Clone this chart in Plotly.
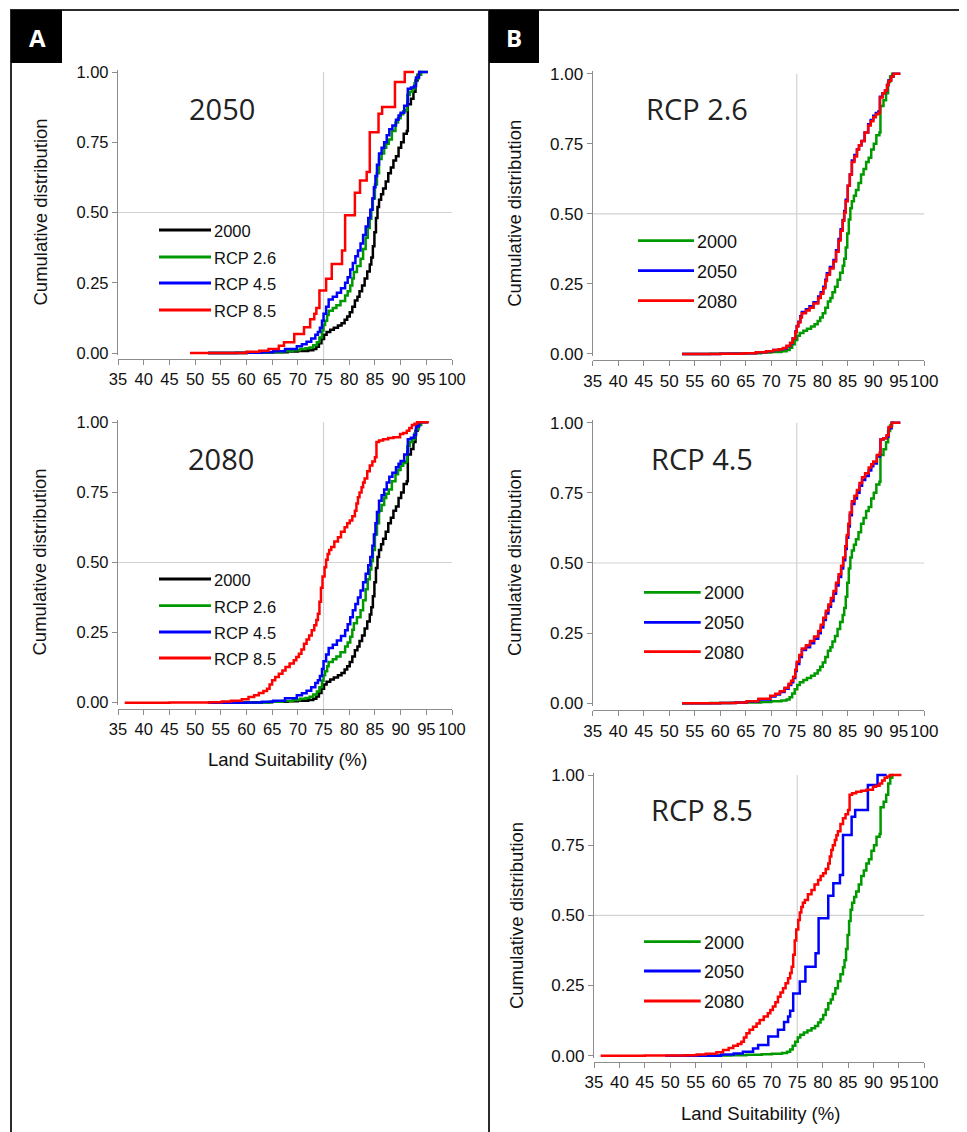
import plotly.graph_objects as go

W, H = 967, 1132
OFF = 8  # the page body margin shifts the figure; compensate so marks land where intended

# ---------------- data ----------------
X_TICKS = [35, 40, 45, 50, 55, 60, 65, 70, 75, 80, 85, 90, 95, 100]
Y_TICKS = [0.0, 0.25, 0.5, 0.75, 1.0]
GRID_X = 75
GRID_Y = 0.5

BASE_2000_X = [52.5, 58, 62, 65, 68, 70, 72, 73, 73.6, 74.1, 74.6, 75.1, 75.6, 76.3, 77, 77.8,
               78.5, 79.1, 79.6, 80.1, 80.6, 81.1, 81.6, 82.0, 82.5, 83.0, 83.5, 84.0, 84.3,
               84.6, 84.9, 85.2, 85.5, 85.8, 86.2, 86.6, 87.1, 87.6, 88.1, 88.6, 89.1, 89.6,
               90.1, 90.6, 91.2, 91.4, 92.0, 92.5, 92.9, 93.3, 93.7, 94.0]
BASE_2000_Y = [0, 0.001, 0.002, 0.003, 0.005, 0.007, 0.01, 0.014, 0.022, 0.035, 0.05, 0.065,
               0.075, 0.083, 0.09, 0.098, 0.106, 0.118, 0.13, 0.145, 0.165, 0.187, 0.20, 0.22,
               0.24, 0.265, 0.29, 0.315, 0.34, 0.38, 0.43, 0.48, 0.52, 0.545, 0.565, 0.585,
               0.61, 0.64, 0.66, 0.685, 0.70, 0.73, 0.75, 0.78, 0.79, 0.885, 0.905, 0.93,
               0.97, 0.99, 1.0, 1.0]

RCP26_2050_X = [52.5, 60, 64.5, 67, 69, 70.4, 71.5, 72.3, 73.0, 73.7, 74.2, 74.7, 75.0, 75.3,
                75.7, 76.0, 76.8, 77.5, 78.3, 79.2, 79.7, 80.2, 80.6, 80.9, 81.5, 82.2, 82.7,
                83.2, 83.6, 84.0, 84.3, 84.6, 85.0, 85.4, 85.8, 86.3, 86.8, 87.2, 87.7, 88.3,
                89.0, 89.5, 90.0, 90.5, 91.0, 91.3, 91.8, 92.3, 92.7, 93.0, 93.5, 94.0, 95.3]
RCP26_2050_Y = [0, 0.001, 0.003, 0.006, 0.01, 0.014, 0.017, 0.02, 0.028, 0.038, 0.055, 0.08,
                0.1, 0.115, 0.135, 0.15, 0.16, 0.17, 0.185, 0.205, 0.22, 0.24, 0.265, 0.288,
                0.31, 0.335, 0.37, 0.41, 0.445, 0.478, 0.51, 0.55, 0.6, 0.64, 0.69, 0.71,
                0.73, 0.745, 0.76, 0.79, 0.82, 0.835, 0.85, 0.86, 0.865, 0.918, 0.93, 0.94,
                0.96, 0.977, 0.99, 1.0, 1.0]

RCP26_2080_X = [52.5, 60, 64.5, 67, 69, 70.4, 71.5, 72.3, 73.0, 73.7, 74.2, 74.7, 75.0, 75.3,
                75.7, 76.0, 76.8, 77.5, 78.3, 79.2, 79.7, 80.2, 80.6, 80.9, 81.5, 82.2, 82.7,
                83.2, 83.6, 84.0, 84.3, 84.6, 85.0, 85.4, 85.8, 86.3, 86.8, 87.2, 87.7, 88.3,
                89.0, 89.5, 90.0, 90.5, 91.0, 91.3, 91.8, 92.3, 92.7, 93.0, 93.5, 94.0, 95.3]
RCP26_2080_Y = [0, 0.001, 0.003, 0.006, 0.01, 0.014, 0.017, 0.021, 0.029, 0.04, 0.055, 0.078,
                0.098, 0.112, 0.13, 0.145, 0.155, 0.165, 0.18, 0.2, 0.215, 0.235, 0.26, 0.283,
                0.305, 0.33, 0.365, 0.405, 0.44, 0.475, 0.505, 0.545, 0.6, 0.64, 0.685, 0.705,
                0.73, 0.745, 0.76, 0.79, 0.815, 0.83, 0.845, 0.855, 0.86, 0.915, 0.93, 0.94,
                0.96, 0.975, 0.99, 1.0, 1.0]

RCP45_2050_X = [52.5, 60, 63, 65.2, 67.5, 69.8, 70.8, 71.7, 72.6, 73.4, 73.9, 74.3, 74.7, 75.0,
                75.5, 76.0, 76.8, 77.6, 78.4, 79.2, 79.7, 80.2, 80.7, 81.2, 81.7, 82.2, 82.7,
                83.2, 83.7, 84.1, 84.5, 84.8, 85.1, 85.4, 85.8, 86.3, 86.8, 87.3, 87.8, 88.4,
                89.1, 89.6, 90.0, 90.7, 91.3, 91.4, 92.0, 92.6, 93.0, 93.6, 95.3]
RCP45_2050_Y = [0, 0.001, 0.003, 0.006, 0.014, 0.024, 0.031, 0.04, 0.052, 0.065, 0.075, 0.09,
                0.115, 0.14, 0.165, 0.19, 0.2, 0.214, 0.23, 0.25, 0.27, 0.297, 0.32, 0.344,
                0.365, 0.39, 0.42, 0.45, 0.48, 0.51, 0.55, 0.59, 0.63, 0.67, 0.71, 0.73, 0.75,
                0.775, 0.796, 0.81, 0.83, 0.845, 0.855, 0.88, 0.89, 0.94, 0.945, 0.95, 0.98,
                1.0, 1.0]

RCP45_2080_X = [52.5, 60, 63, 65.2, 67.5, 69.8, 70.8, 71.7, 72.6, 73.4, 73.9, 74.3, 74.7, 75.0,
                75.5, 76.0, 76.8, 77.6, 78.4, 79.2, 79.7, 80.2, 80.7, 81.2, 81.7, 82.2, 82.7,
                83.2, 83.7, 84.1, 84.5, 84.8, 85.1, 85.4, 85.8, 86.3, 86.8, 87.3, 87.8, 88.4,
                89.1, 89.6, 90.0, 90.7, 91.3, 91.4, 92.0, 92.6, 93.0, 93.6, 95.3]
RCP45_2080_Y = [0, 0.001, 0.003, 0.007, 0.016, 0.027, 0.034, 0.043, 0.055, 0.07, 0.08, 0.095,
                0.12, 0.148, 0.172, 0.195, 0.207, 0.222, 0.238, 0.258, 0.28, 0.305, 0.33, 0.352,
                0.375, 0.4, 0.43, 0.46, 0.49, 0.52, 0.56, 0.6, 0.64, 0.68, 0.72, 0.74, 0.76,
                0.785, 0.806, 0.82, 0.84, 0.852, 0.862, 0.885, 0.895, 0.94, 0.945, 0.955, 0.985,
                1.0, 1.0]

RCP85_2050_X = [49.0, 60.0, 62.5, 64.3, 66.3, 67.3, 69.3, 71.2, 72.4, 73.2, 73.6, 74.2, 75.5,
                76.6, 78.6, 79.2, 81.1, 82.1, 83.4, 84.0, 85.7, 86.4, 88.9, 90.8, 92.6]
RCP85_2050_Y = [0, 0.004, 0.008, 0.014, 0.026, 0.038, 0.068, 0.092, 0.12, 0.14, 0.16, 0.222,
                0.264, 0.317, 0.365, 0.49, 0.57, 0.614, 0.644, 0.786, 0.851, 0.875, 0.964,
                1.0, 1.0]

RCP85_2080_X = [36.3, 45, 50, 53, 55.2, 57, 59.1, 60.4, 61.5, 62.4, 63.3, 64.0, 64.5, 65.0, 65.6,
                66.3, 67.0, 67.6, 68.4, 69.2, 69.7, 70.2, 70.7, 71.2, 71.7, 72.2, 72.7, 73.2,
                73.6, 73.9, 74.2, 74.5, 74.8, 75.2, 75.5, 75.8, 76.1, 76.5, 77.1, 77.8, 78.4,
                79.1, 79.6, 80.1, 80.6, 81.1, 81.4, 81.7, 82.0, 82.4, 82.7, 83.0, 83.5, 84.0,
                84.5, 85.0, 85.3, 85.8, 86.6, 87.6, 88.6, 89.9, 90.5, 91.2, 91.7, 92.2, 92.7,
                93.2, 95.5]
RCP85_2080_Y = [0, 0.0005, 0.001, 0.002, 0.004, 0.007, 0.012, 0.02, 0.027, 0.035, 0.042, 0.05,
                0.065, 0.08, 0.092, 0.103, 0.115, 0.127, 0.14, 0.151, 0.163, 0.175, 0.19, 0.21,
                0.225, 0.24, 0.258, 0.276, 0.295, 0.317, 0.36, 0.41, 0.45, 0.483, 0.51, 0.53,
                0.545, 0.555, 0.575, 0.59, 0.61, 0.626, 0.64, 0.65, 0.665, 0.685, 0.71, 0.733,
                0.75, 0.768, 0.785, 0.80, 0.825, 0.846, 0.86, 0.875, 0.93, 0.935, 0.94, 0.944,
                0.947, 0.958, 0.962, 0.97, 0.98, 0.99, 0.995, 1.0, 1.0]

LABELS_A = ["2000", "RCP 2.6", "RCP 4.5", "RCP 8.5"]
LABELS_B = ["2000", "2050", "2080"]
TITLES = ["2050", "2080", "RCP 2.6", "RCP 4.5", "RCP 8.5"]
PANEL_LETTERS = ["A", "B"]
Y_TITLE = "Cumulative distribution"
X_TITLE = "Land Suitability (%)"

# ---------------- styling ----------------
BLACK, GREEN, BLUE, RED = "#000000", "#009a00", "#0000ff", "#ff0000"
AX_COL = "#8c8c8c"
GRID_COL = "#d2d2d2"
TXT = "Liberation Sans, Arial, sans-serif"
TITLE_FONT = "Open Sans, Noto Sans, sans-serif"


def fx(p):
    return (p - OFF) / W


def fy(p):
    return 1 - (p - OFF) / H


panels = [
    dict(series=[(BASE_2000_X, BASE_2000_Y), (RCP26_2050_X, RCP26_2050_Y),
                 (RCP45_2050_X, RCP45_2050_Y), (RCP85_2050_X, RCP85_2050_Y)],
         labels=LABELS_A, colors=[BLACK, GREEN, BLUE, RED], title=TITLES[0],
         xd=(118, 452), yd=(72, 353), xline=359, tpos=(222, 107),
         leg=(159, 211), rows=[230, 257, 283, 310], lfs=16.5, tfs=16.5, ytx=40, xt=None),
    dict(series=[(BASE_2000_X, BASE_2000_Y), (RCP26_2080_X, RCP26_2080_Y),
                 (RCP45_2080_X, RCP45_2080_Y), (RCP85_2080_X, RCP85_2080_Y)],
         labels=LABELS_A, colors=[BLACK, GREEN, BLUE, RED], title=TITLES[1],
         xd=(118, 452), yd=(422.3, 702.7), xline=709, tpos=(221, 457),
         leg=(159, 211), rows=[579, 605.7, 632, 658], lfs=16.5, tfs=16.5, ytx=39,
         xt=(287, 760)),
    dict(series=[(BASE_2000_X, BASE_2000_Y), (RCP26_2050_X, RCP26_2050_Y),
                 (RCP26_2080_X, RCP26_2080_Y)],
         labels=LABELS_B, colors=[GREEN, BLUE, RED], title=TITLES[2],
         xd=(592.7, 924.3), yd=(73.7, 354), xline=360, tpos=(697, 107),
         leg=(638, 694), rows=[240.7, 270.7, 300.7], lfs=18, tfs=17, ytx=515, xt=None),
    dict(series=[(BASE_2000_X, BASE_2000_Y), (RCP45_2050_X, RCP45_2050_Y),
                 (RCP45_2080_X, RCP45_2080_Y)],
         labels=LABELS_B, colors=[GREEN, BLUE, RED], title=TITLES[3],
         xd=(592.7, 924.3), yd=(422.7, 703.3), xline=710, tpos=(702, 456.7),
         leg=(644, 700.7), rows=[592.3, 622.3, 651.7], lfs=18, tfs=17, ytx=515, xt=None),
    dict(series=[(BASE_2000_X, BASE_2000_Y), (RCP85_2050_X, RCP85_2050_Y),
                 (RCP85_2080_X, RCP85_2080_Y)],
         labels=LABELS_B, colors=[GREEN, BLUE, RED], title=TITLES[4],
         xd=(594, 924.3), yd=(775, 1055.7), xline=1061.7, tpos=(702, 807.7),
         leg=(644, 700.7), rows=[941.7, 971, 1001], lfs=18, tfs=17, ytx=516.7,
         xt=(760, 1113)),
]

fig = go.Figure()
shapes = []
annotations = []
layout_axes = {}
PAD = 0.008

for i, p in enumerate(panels, start=1):
    xa = "x" if i == 1 else f"x{i}"
    ya = "y" if i == 1 else f"y{i}"
    xkey = "xaxis" if i == 1 else f"xaxis{i}"
    ykey = "yaxis" if i == 1 else f"yaxis{i}"

    for (sx, sy), name, col in zip(p["series"], p["labels"], p["colors"]):
        fig.add_trace(go.Scatter(x=sx, y=sy, mode="lines", name=name,
                                 line=dict(color=col, width=2.5, shape="hv"),
                                 xaxis=xa, yaxis=ya, showlegend=False, hoverinfo="skip"))

    top, bot = p["yd"]
    h = bot - top
    layout_axes[xkey] = dict(
        domain=[fx(p["xd"][0]), fx(p["xd"][1])], range=[35, 100], anchor="free",
        position=fy(p["xline"]), tickmode="array", tickvals=X_TICKS,
        ticktext=[str(v) for v in X_TICKS], ticks="outside", ticklen=5, tickcolor=AX_COL,
        tickwidth=1.2, showline=True, linecolor=AX_COL, linewidth=1.3, showgrid=False,
        zeroline=False, tickangle=0, automargin=False,
        tickfont=dict(family=TXT, size=p["tfs"], color="#111"), fixedrange=True)
    layout_axes[ykey] = dict(
        domain=[fy(bot + PAD * h), fy(top - PAD * h)], range=[-PAD, 1 + PAD], anchor=xa,
        tickmode="array", tickvals=Y_TICKS, ticktext=[f"{v:.2f}" for v in Y_TICKS],
        ticks="outside", ticklen=5, tickcolor=AX_COL, tickwidth=1.2, showline=True,
        linecolor=AX_COL, linewidth=1.3, showgrid=False, zeroline=False, automargin=False,
        tickfont=dict(family=TXT, size=p["tfs"], color="#111"), fixedrange=True)

    # reference grid lines
    shapes.append(dict(type="line", xref=xa, yref="paper", x0=GRID_X, x1=GRID_X,
                       y0=fy(p["xline"]), y1=fy(top), line=dict(color=GRID_COL, width=1.2),
                       layer="below"))
    shapes.append(dict(type="line", xref=f"{xa} domain", yref=ya, x0=0, x1=1,
                       y0=GRID_Y, y1=GRID_Y, line=dict(color=GRID_COL, width=1.2),
                       layer="below"))

    # panel title
    annotations.append(dict(text=p["title"], x=fx(p["tpos"][0]), y=fy(p["tpos"][1] + 2),
                            xref="paper", yref="paper", showarrow=False, xanchor="center",
                            yanchor="middle",
                            font=dict(family=TITLE_FONT, size=29, color="#222")))
    # y title
    annotations.append(dict(text=Y_TITLE, x=fx(p["ytx"]), y=fy((top + bot) / 2),
                            xref="paper", yref="paper", showarrow=False, textangle=-90,
                            xanchor="center", yanchor="middle",
                            font=dict(family=TXT, size=18.5, color="#111")))
    if p["xt"]:
        annotations.append(dict(text=X_TITLE, x=fx(p["xt"][0]), y=fy(p["xt"][1]),
                                xref="paper", yref="paper", showarrow=False,
                                xanchor="center", yanchor="middle",
                                font=dict(family=TXT, size=18.5, color="#111")))

    # manual legend
    lx0, lx1 = p["leg"]
    for row, name, col in zip(p["rows"], p["labels"], p["colors"]):
        shapes.append(dict(type="line", xref="paper", yref="paper", x0=fx(lx0), x1=fx(lx1),
                           y0=fy(row), y1=fy(row), line=dict(color=col, width=2.8)))
        annotations.append(dict(text=name, x=fx(lx1 + 1), y=fy(row + 1), xref="paper",
                                yref="paper", showarrow=False, xanchor="left",
                                yanchor="middle",
                                font=dict(family=TXT, size=p["lfs"], color="#111")))

# panel frames
FRAME = "#2b2b2b"
shapes += [
    dict(type="line", xref="paper", yref="paper", x0=fx(10), x1=1, y0=fy(10), y1=fy(10),
         line=dict(color=FRAME, width=2)),
    dict(type="line", xref="paper", yref="paper", x0=fx(11), x1=fx(11), y0=fy(10), y1=0,
         line=dict(color=FRAME, width=2)),
    dict(type="line", xref="paper", yref="paper", x0=fx(489), x1=fx(489), y0=fy(10), y1=0,
         line=dict(color=FRAME, width=2)),
    dict(type="line", xref="paper", yref="paper", x0=fx(966), x1=fx(966), y0=fy(10), y1=0,
         line=dict(color="#d0d0d0", width=1)),
    dict(type="rect", xref="paper", yref="paper", x0=fx(11), x1=fx(62), y0=fy(63), y1=fy(10),
         fillcolor="#000", line=dict(width=0)),
    dict(type="rect", xref="paper", yref="paper", x0=fx(489), x1=fx(539), y0=fy(63),
         y1=fy(10), fillcolor="#000", line=dict(width=0)),
]
for letter, cx in zip(PANEL_LETTERS, [37, 514]):
    annotations.append(dict(text=f"<b>{letter}</b>", x=fx(cx), y=fy(38), xref="paper",
                            yref="paper", showarrow=False, xanchor="center",
                            yanchor="middle",
                            font=dict(family=TITLE_FONT, size=24, color="#fff")))

fig.update_layout(width=W, height=H, margin=dict(l=0, r=0, t=0, b=0, pad=0,
                                                  autoexpand=False),
                  paper_bgcolor="white", plot_bgcolor="white", showlegend=False,
                  shapes=shapes, annotations=annotations, **layout_axes)

fig.write_html("out.html")
